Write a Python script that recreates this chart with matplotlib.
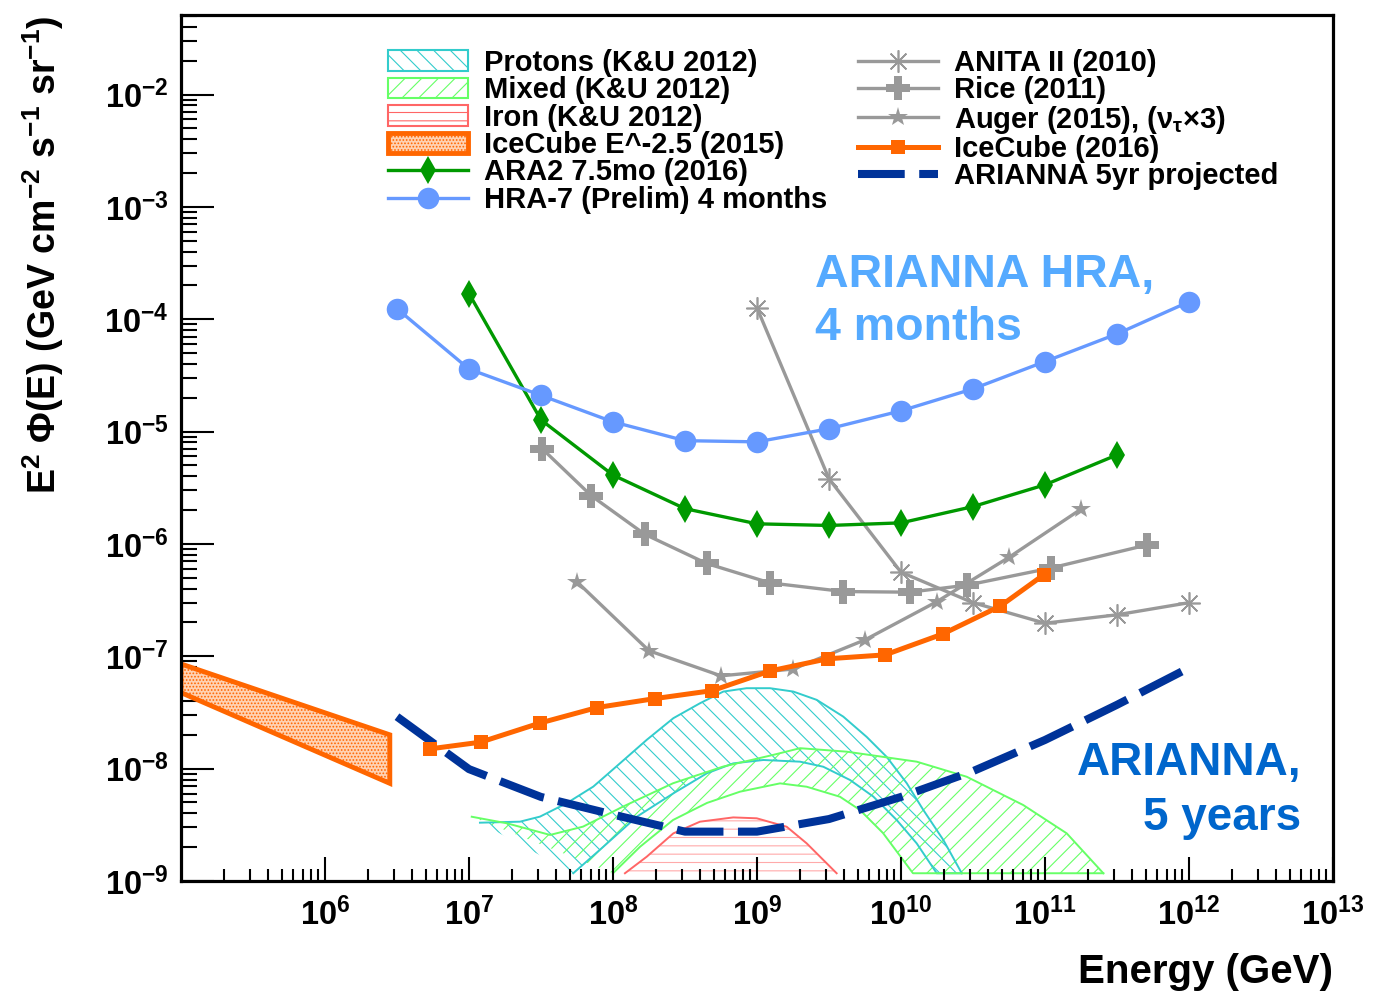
import numpy as np
import matplotlib
matplotlib.use("Agg")
import matplotlib.pyplot as plt
from matplotlib.patches import Patch
from matplotlib.lines import Line2D
from matplotlib.ticker import FuncFormatter, LogLocator, NullFormatter

# ---- data (energies as log10(E/GeV), fluxes in GeV cm^-2 s^-1 sr^-1) ----
hra_logE = [6.5, 7.0, 7.5, 8.0, 8.5, 9.0, 9.5, 10.0, 10.5, 11.0, 11.5, 12.0]
hra_flux = [1.24e-4, 3.6e-5, 2.1e-5, 1.22e-5, 8.3e-6, 8.1e-6, 1.06e-5, 1.53e-5, 2.4e-5, 4.2e-5, 7.4e-5, 1.43e-4]

ara_logE = [7.0, 7.5, 8.0, 8.5, 9.0, 9.5, 10.0, 10.5, 11.0, 11.5]
ara_flux = [1.69e-4, 1.27e-5, 4.1e-6, 2.06e-6, 1.51e-6, 1.46e-6, 1.54e-6, 2.15e-6, 3.36e-6, 6.2e-6]

rice_logE = [7.51, 7.85, 8.22, 8.65, 9.09, 9.60, 10.06, 10.46, 11.04, 11.71]
rice_flux = [7.0e-6, 2.68e-6, 1.22e-6, 6.7e-7, 4.5e-7, 3.77e-7, 3.72e-7, 4.3e-7, 6.1e-7, 9.8e-7]

anita_logE = [9.0, 9.5, 10.0, 10.5, 11.0, 11.5, 12.0]
anita_flux = [1.26e-4, 3.8e-6, 5.6e-7, 3.0e-7, 1.97e-7, 2.34e-7, 3.0e-7]

auger_logE = [7.75, 8.25, 8.75, 9.25, 9.75, 10.25, 10.75, 11.25]
auger_flux = [4.6e-7, 1.12e-7, 6.7e-8, 7.7e-8, 1.4e-7, 3.07e-7, 7.6e-7, 2.04e-6]

icecube_logE = [6.73, 7.08, 7.49, 7.89, 8.29, 8.69, 9.09, 9.49, 9.89, 10.29, 10.69, 10.99]
icecube_flux = [1.5e-8, 1.72e-8, 2.54e-8, 3.5e-8, 4.2e-8, 4.95e-8, 7.4e-8, 9.5e-8, 1.03e-7, 1.58e-7, 2.8e-7, 5.3e-7]

arianna_logE = [6.5, 7.0, 7.5, 8.0, 8.5, 9.0, 9.5, 10.0, 10.5, 11.0, 11.5, 12.0]
arianna_flux = [2.9e-8, 9.9e-9, 5.6e-9, 3.9e-9, 2.75e-9, 2.75e-9, 3.56e-9, 5.6e-9, 9.5e-9, 1.8e-8, 3.7e-8, 7.9e-8]

# IceCube E^-2.5 (2015) band
ic15_logE = [5.0, 6.45]
ic15_hi = [8.55e-8, 2.0e-8]
ic15_lo = [4.75e-8, 7.4e-9]

# K&U 2012 model bands (log10 E, log10 flux)
prot_hi_logE = [7.076, 7.354, 7.493, 7.678, 7.863, 8.049, 8.234, 8.419, 8.604, 8.766, 8.928, 9.090,
                9.252, 9.415, 9.599, 9.762, 9.901, 10.040, 10.155, 10.294, 10.422]
prot_hi_log = [-8.481, -8.472, -8.427, -8.308, -8.160, -7.952, -7.744, -7.551, -7.418, -7.314, -7.284, -7.284,
               -7.314, -7.388, -7.537, -7.718, -7.896, -8.130, -8.368, -8.635, -8.931]
prot_lo_logE = [7.076, 7.724, 7.933, 8.165, 8.419, 8.651, 8.835, 9.044, 9.299, 9.460, 9.646, 9.808,
                9.970, 10.109, 10.248]
prot_lo_log = [-8.481, -8.931, -8.695, -8.428, -8.220, -8.042, -7.953, -7.923, -7.938, -7.983, -8.101, -8.249,
               -8.457, -8.665, -8.931]

mix_hi_logE = [7.019, 7.262, 7.563, 7.792, 8.069, 8.417, 8.764, 9.111, 9.299, 9.623, 10.109, 10.456,
               10.849, 11.151, 11.405]
mix_hi_log = [-8.428, -8.486, -8.590, -8.516, -8.338, -8.130, -7.982, -7.878, -7.818, -7.849, -7.938, -8.072,
              -8.324, -8.576, -8.931]
mix_lo_logE = [7.019, 8.0, 8.188, 8.417, 8.653, 8.882, 9.160, 9.345, 9.576, 9.715, 9.875, 10.083]
mix_lo_log = [-8.428, -8.931, -8.695, -8.457, -8.305, -8.205, -8.131, -8.161, -8.250, -8.368, -8.573, -8.931]

iron_logE = [8.083, 8.234, 8.419, 8.604, 8.835, 8.998, 9.206, 9.345, 9.553]
iron_log = [-8.931, -8.784, -8.576, -8.472, -8.434, -8.442, -8.517, -8.665, -8.931]

# ---- style ----
plt.rcParams["font.family"] = ["Liberation Sans", "DejaVu Sans"]
plt.rcParams["font.weight"] = "bold"
plt.rcParams["axes.labelweight"] = "bold"
plt.rcParams["mathtext.fontset"] = "custom"
plt.rcParams["mathtext.rm"] = "Liberation Sans:bold"
plt.rcParams["mathtext.it"] = "Liberation Sans:bold"
plt.rcParams["mathtext.bf"] = "Liberation Sans:bold"
plt.rcParams["mathtext.default"] = "rm"
plt.rcParams["hatch.linewidth"] = 0.8

CYAN = "#33CCCC"
GREEN_B = "#66FF66"
RED_L = "#FF6666"
RED_H = "#FFAAAA"
ORANGE = "#FF6600"
GRAY = "#999999"
ARA_GREEN = "#009900"
HRA_BLUE = "#6699FF"
NAVY = "#003399"

fig = plt.figure(figsize=(13.95, 9.94), dpi=100)
ax = fig.add_axes([0.12975, 0.11368, 0.82581, 0.87123])
ax.set_xscale("log")
ax.set_yscale("log")
ax.set_xlim(1e5, 1e13)
ax.set_ylim(1e-9, 5.1e-2)


def p10(a):
    return np.power(10.0, np.asarray(a, dtype=float))


def model_band(hi_x, hi_y, lo_x, lo_y, line_c, hatch_c, hatch):
    xs = np.concatenate([p10(hi_x), p10(lo_x)[::-1]])
    ys = np.concatenate([p10(hi_y), p10(lo_y)[::-1]])
    ax.fill(xs, ys, facecolor="none", edgecolor=hatch_c, hatch=hatch, lw=0, zorder=1)
    ax.plot(p10(hi_x), p10(hi_y), color=line_c, lw=1.4, zorder=1.5)
    # visible lower edge plus the bottom closing segment
    lx = list(lo_x[1:]) + [hi_x[-1]]
    ly = list(lo_y[1:]) + [hi_y[-1]]
    ax.plot(p10(lx), p10(ly), color=line_c, lw=1.4, zorder=1.5)


model_band(prot_hi_logE, prot_hi_log, prot_lo_logE, prot_lo_log, CYAN, CYAN, "\\\\")
model_band(mix_hi_logE, mix_hi_log, mix_lo_logE, mix_lo_log, GREEN_B, GREEN_B, "//")
ax.fill(p10(iron_logE), p10(iron_log), facecolor="none", edgecolor=RED_H, hatch="--", lw=0, zorder=1)
ax.plot(p10(iron_logE), p10(iron_log), color=RED_L, lw=1.4, zorder=1.5)

# IceCube E^-2.5 band
ax.fill(np.concatenate([p10(ic15_logE), p10(ic15_logE)[::-1]]),
        np.concatenate([ic15_hi, ic15_lo[::-1]]),
        facecolor="#FFD2B3", edgecolor=ORANGE, hatch=".....", lw=3.5, zorder=2)

# limit curves
ax.plot(p10(arianna_logE), arianna_flux, color=NAVY, lw=5.8, dashes=(5.8, 1.8), zorder=4)
ax.plot(p10(anita_logE), anita_flux, color=GRAY, lw=2.4, marker=(8, 2, 0), ms=16, mew=1.2, zorder=3)
ax.plot(p10(rice_logE), rice_flux, color=GRAY, lw=2.4, marker="P", ms=17, mew=0, zorder=3)
ax.plot(p10(auger_logE), auger_flux, color=GRAY, lw=2.4, marker="*", ms=15, mew=0, zorder=3)
ax.plot(p10(icecube_logE), icecube_flux, color=ORANGE, lw=3.6, marker="s", ms=10.5, mew=0, zorder=5)
ax.plot(p10(ara_logE), ara_flux, color=ARA_GREEN, lw=2.4, marker="d", ms=14, mew=0, zorder=5)
ax.plot(p10(hra_logE), hra_flux, color=HRA_BLUE, lw=2.4, marker="o", ms=15.5, mew=0, zorder=5)

# ---- axes ----
ax.xaxis.set_minor_locator(LogLocator(base=10, subs=np.arange(2, 10), numticks=100))
ax.yaxis.set_minor_locator(LogLocator(base=10, subs=np.arange(2, 10), numticks=100))
ax.set_xticks([10.0 ** k for k in range(6, 14)])
ax.set_yticks([10.0 ** k for k in range(-9, -1)])
fmt = FuncFormatter(lambda v, p: r"$10^{%d}$" % int(round(np.log10(v))))
ax.xaxis.set_major_formatter(fmt)
ax.yaxis.set_major_formatter(fmt)
ax.xaxis.set_minor_formatter(NullFormatter())
ax.yaxis.set_minor_formatter(NullFormatter())

ax.tick_params(which="both", direction="in", top=False, right=False, width=1.5, labelsize=23.5)
ax.tick_params(axis="y", which="major", length=24, pad=9)
ax.tick_params(axis="y", which="minor", length=11.5)
ax.tick_params(axis="x", which="major", length=17.5, pad=12)
ax.tick_params(axis="x", which="minor", length=8.6)
for s in ax.spines.values():
    s.set_linewidth(2.3)

ax.set_ylabel("E$^{2}$ Φ(E) (GeV cm$^{-2}$ s$^{-1}$ sr$^{-1}$)", fontsize=27, fontweight="bold", loc="top")
ax.yaxis.set_label_coords(-0.1, 1.0)
ax.set_xlabel("Energy (GeV)", fontsize=29, fontweight="bold", loc="right")
ax.xaxis.set_label_coords(1.0, -0.083)

# ---- annotations ----
ax.text(0.5503, 0.686, "ARIANNA HRA,", transform=ax.transAxes, color="#55AAFF",
        fontsize=33.5, ha="left", va="baseline")
ax.text(0.5503, 0.6245, "4 months", transform=ax.transAxes, color="#55AAFF",
        fontsize=33.5, ha="left", va="baseline")
ax.text(0.9725, 0.1228, "ARIANNA,", transform=ax.transAxes, color="#0066CC",
        fontsize=33, ha="right", va="baseline")
ax.text(0.9725, 0.0589, "5 years", transform=ax.transAxes, color="#0066CC",
        fontsize=33, ha="right", va="baseline")

# ---- legends ----
h1 = [
    Patch(facecolor="white", edgecolor=CYAN, hatch="\\\\", lw=1.5, label="Protons (K&U 2012)"),
    Patch(facecolor="white", edgecolor=GREEN_B, hatch="//", lw=1.5, label="Mixed (K&U 2012)"),
    Patch(facecolor="white", edgecolor=RED_L, hatch="--", lw=1.5, label="Iron (K&U 2012)"),
    Patch(facecolor="#FFD2B3", edgecolor=ORANGE, hatch=".....", lw=3.5, label="IceCube E^-2.5 (2015)"),
    Line2D([], [], color=ARA_GREEN, lw=2.4, marker="d", ms=14, mew=0, label="ARA2 7.5mo (2016)"),
    Line2D([], [], color=HRA_BLUE, lw=2.4, marker="o", ms=15.5, mew=0, label="HRA-7 (Prelim) 4 months"),
]
h2 = [
    Line2D([], [], color=GRAY, lw=2.4, marker=(8, 2, 0), ms=16, mew=1.2, label="ANITA II (2010)"),
    Line2D([], [], color=GRAY, lw=2.4, marker="P", ms=17, mew=0, label="Rice (2011)"),
    Line2D([], [], color=GRAY, lw=2.4, marker="*", ms=15, mew=0,
           label=r"Auger (2015), ($\nu_{\tau}$$\times$3)"),
    Line2D([], [], color=ORANGE, lw=3.6, marker="s", ms=10.5, mew=0, label="IceCube (2016)"),
    Line2D([], [], color=NAVY, lw=5.8, dashes=(5.8, 1.8), label="ARIANNA 5yr projected"),
]
leg_kw = dict(loc="upper left", frameon=False, fontsize=21, handlelength=2.75, handleheight=0.7,
              handletextpad=0.55, labelspacing=-0.02, borderpad=0, borderaxespad=0)
leg1 = ax.legend(handles=h1, bbox_to_anchor=(0.1797, 0.961), **leg_kw)
ax.add_artist(leg1)
ax.legend(handles=h2, bbox_to_anchor=(0.5877, 0.961), **leg_kw)

fig.savefig("out.png", dpi=100)
